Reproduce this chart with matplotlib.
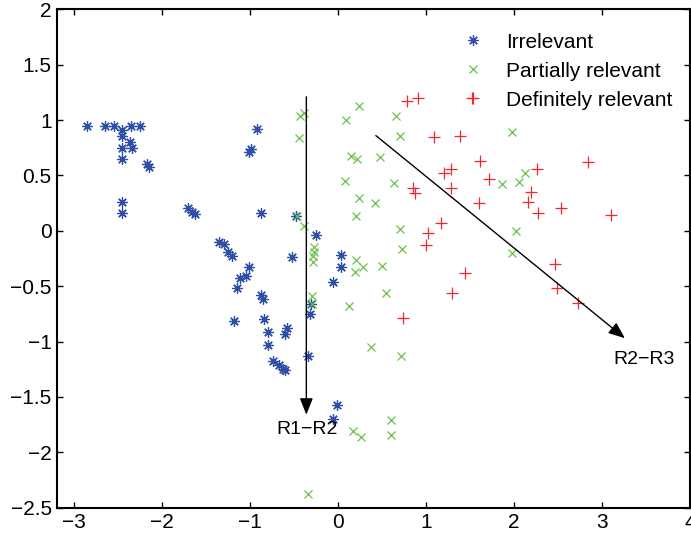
import matplotlib.pyplot as plt
import numpy as np

plt.rcParams['font.family'] = ['Liberation Sans', 'DejaVu Sans']

# -----------------------------
# Data
# -----------------------------

irrelevant_x = [-2.85, -2.65, -2.55, -2.45, -2.35, -2.25, -2.45, -2.36, -2.34, -2.45,
                -2.45, -2.17, -2.15, -0.92, -0.99, -1.01, -2.45, -2.45, -1.70, -1.66,
                -1.63, -0.87, -0.48, -0.25, -0.52, 0.03, 0.03, -0.06, -1.35, -1.30,
                -1.25, -1.21, -1.01, -1.05, -1.11, -1.15, -0.87, -0.85, -1.18, -0.84,
                -0.80, -0.58, -0.60, -0.80, -0.74, -0.67, -0.63, -0.60, -0.32, -0.31,
                -0.34, -0.01, -0.06]
irrelevant_y = [0.95, 0.95, 0.95, 0.91, 0.95, 0.95, 0.86, 0.80, 0.75, 0.75,
                0.65, 0.60, 0.58, 0.92, 0.74, 0.71, 0.26, 0.16, 0.21, 0.17,
                0.15, 0.16, 0.13, -0.04, -0.24, -0.22, -0.33, -0.46, -0.10, -0.12,
                -0.19, -0.23, -0.33, -0.41, -0.43, -0.52, -0.58, -0.62, -0.81, -0.80,
                -0.91, -0.88, -0.93, -1.03, -1.18, -1.21, -1.25, -1.26, -0.75, -0.66,
                -1.13, -1.57, -1.70]

partial_x = [-0.39, -0.43, -0.44, 0.24, 0.09, 0.66, 0.71, 0.15, 0.22, 0.48,
             0.08, 0.64, 0.24, 0.42, 0.20, -0.39, 0.71, 0.73, -0.47, -0.27,
             -0.27, -0.28, -0.28, 0.21, 0.28, 0.19, 0.50, 0.54, -0.30, -0.29,
             0.13, 0.38, 0.72, 0.60, 0.60, 0.17, 0.26, -0.34, 1.98, 2.13,
             2.06, 1.86, 2.02, 1.98]
partial_y = [1.06, 1.04, 0.84, 1.13, 1.00, 1.04, 0.86, 0.68, 0.65, 0.67,
             0.45, 0.43, 0.30, 0.25, 0.13, 0.04, 0.02, -0.16, 0.13, -0.15,
             -0.19, -0.23, -0.28, -0.26, -0.33, -0.37, -0.32, -0.56, -0.59, -0.66,
             -0.68, -1.05, -1.13, -1.71, -1.84, -1.81, -1.86, -2.38, 0.89, 0.52,
             0.44, 0.42, 0.00, -0.20]

definite_x = [0.78, 0.91, 1.52, 1.09, 1.39, 1.61, 1.28, 1.20, 1.71, 1.28,
              0.85, 0.88, 2.26, 2.84, 2.19, 2.16, 1.60, 2.27, 2.53, 3.10,
              1.17, 1.02, 1.00, 1.44, 1.30, 2.46, 2.49, 2.73, 0.74]
definite_y = [1.17, 1.20, 1.20, 0.85, 0.86, 0.63, 0.56, 0.52, 0.47, 0.39,
              0.39, 0.34, 0.56, 0.62, 0.35, 0.26, 0.25, 0.16, 0.21, 0.14,
              0.07, -0.02, -0.13, -0.38, -0.56, -0.30, -0.52, -0.65, -0.79]

# arrows: (start, end, label, label position)
arrows = [
    ((-0.36, 1.21), (-0.36, -1.66), "R1\u2212R2", (-0.35, -1.79)),
    ((0.43, 0.86), (3.26, -0.97), "R2\u2212R3", (3.48, -1.16)),
]

xticks = [-3, -2, -1, 0, 1, 2, 3, 4]
xtick_labels = ["\u22123", "\u22122", "\u22121", "0", "1", "2", "3", "4"]
yticks = [-2.5, -2, -1.5, -1, -0.5, 0, 0.5, 1, 1.5, 2]
ytick_labels = ["\u22122.5", "\u22122", "\u22121.5", "\u22121", "\u22120.5",
                "0", "0.5", "1", "1.5", "2"]

# -----------------------------
# Plot
# -----------------------------

fig = plt.figure(figsize=(6.91, 5.39), dpi=100)
ax = fig.add_axes([0.0829, 0.0581, 0.9157, 0.9246])

ax.plot(irrelevant_x, irrelevant_y, linestyle='none', marker=(8, 2, 0),
        markersize=7.5, markeredgewidth=0.9, color='#2f4fa6', label='Irrelevant')
ax.plot(partial_x, partial_y, linestyle='none', marker='x',
        markersize=6, markeredgewidth=0.9, color='#6cc04a', label='Partially relevant')
ax.plot(definite_x, definite_y, linestyle='none', marker='+',
        markersize=8.5, markeredgewidth=0.9, color='#f0282c', label='Definitely relevant')

for start, end, label, pos in arrows:
    ax.annotate("", xy=end, xytext=start,
                arrowprops=dict(arrowstyle='-|>,head_length=1.0,head_width=0.4',
                                color='k', lw=1.0, shrinkA=0, shrinkB=0))
    ax.text(pos[0], pos[1], label, ha='center', va='center', fontsize=14)

ax.set_xlim(-3.19, 4)
ax.set_ylim(-2.5, 2)
ax.set_xticks(xticks)
ax.set_xticklabels(xtick_labels)
ax.set_yticks(yticks)
ax.set_yticklabels(ytick_labels)
ax.tick_params(direction='in', top=True, right=True, length=4.5, width=1,
               labelsize=15, pad=4)
for s in ax.spines.values():
    s.set_linewidth(1.5)

ax.legend(loc='upper left', bbox_to_anchor=(0.624, 0.970), frameon=False,
          fontsize=15, handlelength=1.2, handletextpad=1.0, labelspacing=0.48,
          borderaxespad=0)

fig.savefig("out.png", dpi=100)
